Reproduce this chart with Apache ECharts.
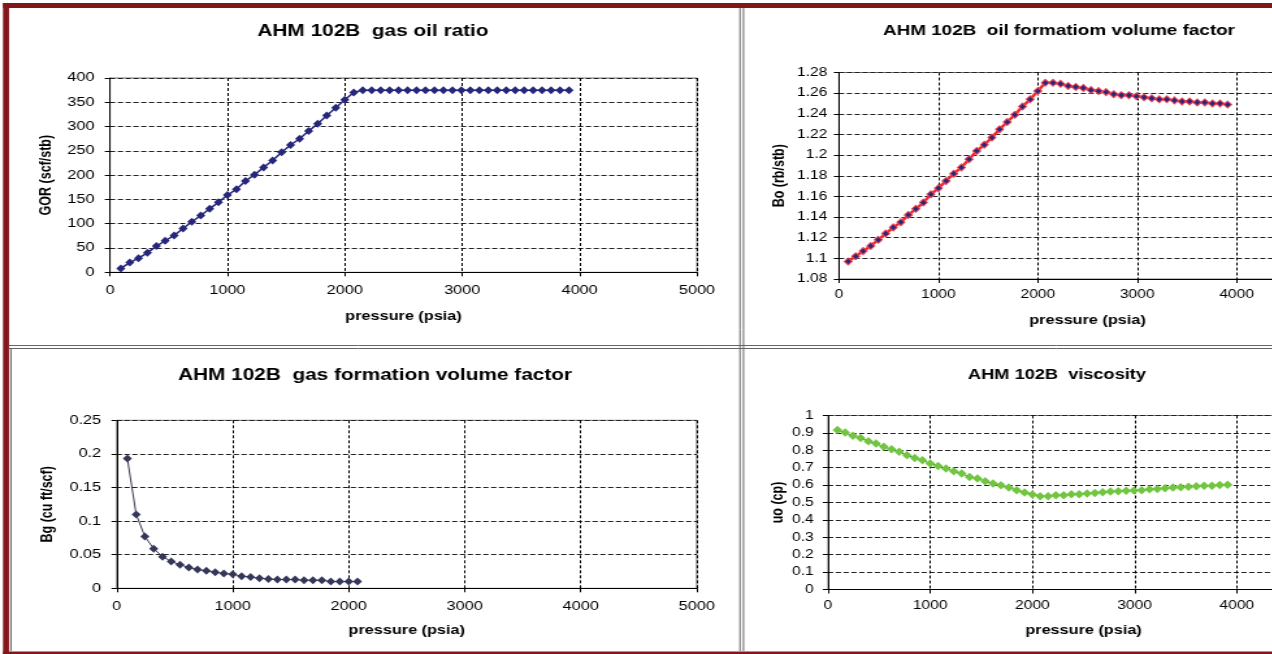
<!DOCTYPE html>
<html>
<head>
<meta charset="utf-8">
<title>AHM 102B PVT</title>
<script src="https://cdn.jsdelivr.net/npm/echarts@6/dist/echarts.min.js"></script>
<style>
html,body{margin:0;padding:0;background:#fff;overflow:hidden;}
/* the source picture is a screenshot stretched sideways, so the chart is too */
#main{width:1080px;height:654px;transform:scaleX(1.3);transform-origin:0 0;}
</style>
</head>
<body>
<div id="main"></div>
<script>
// pressure steps (psia), shared by all four panels
var pressure = [92, 168, 243, 319, 395, 470, 546, 622, 697, 773,
  849, 924, 1000, 1077, 1154, 1231, 1308, 1385, 1462, 1538,
  1615, 1692, 1769, 1846, 1923, 2000, 2076, 2153, 2229, 2306,
  2382, 2458, 2535, 2611, 2687, 2764, 2840, 2917, 2993, 3069,
  3146, 3222, 3298, 3375, 3451, 3527, 3604, 3680, 3757, 3833, 3910];

// gas oil ratio (scf/stb)
var gor = [8, 20, 29, 40, 54, 65, 76, 90, 104, 117,
  131, 144, 159, 171, 188, 201, 216, 230, 247, 262,
  275, 291, 306, 323, 339, 355, 370, 375, 375, 375,
  375, 375, 375, 375, 375, 375, 375, 375, 375, 375,
  375, 375, 375, 375, 375, 375, 375, 375, 375, 375, 375];

// oil formation volume factor (rb/stb)
var bo = [1.097, 1.102, 1.107, 1.112, 1.118, 1.124, 1.130, 1.135, 1.142, 1.148,
  1.154, 1.162, 1.168, 1.175, 1.182, 1.188, 1.196, 1.204, 1.210, 1.217,
  1.225, 1.232, 1.239, 1.247, 1.254, 1.262, 1.270, 1.270, 1.269, 1.267,
  1.266, 1.265, 1.263, 1.262, 1.261, 1.259, 1.258, 1.258, 1.257, 1.256,
  1.255, 1.254, 1.254, 1.253, 1.252, 1.252, 1.251, 1.251, 1.250, 1.250, 1.249];

// gas formation volume factor (cu ft/scf), only up to the bubble point
var bg = [0.193, 0.110, 0.077, 0.059, 0.047, 0.040, 0.035, 0.031, 0.028, 0.026,
  0.024, 0.022, 0.021, 0.018, 0.017, 0.015, 0.014, 0.013, 0.013, 0.013,
  0.012, 0.012, 0.012, 0.010, 0.010, 0.010, 0.010];

// oil viscosity (cp)
var visc = [0.916, 0.902, 0.883, 0.871, 0.852, 0.839, 0.820, 0.806, 0.791, 0.772,
  0.756, 0.743, 0.724, 0.710, 0.695, 0.680, 0.667, 0.647, 0.638, 0.622,
  0.609, 0.599, 0.586, 0.571, 0.557, 0.546, 0.536, 0.536, 0.542, 0.542,
  0.548, 0.548, 0.552, 0.555, 0.559, 0.563, 0.565, 0.567, 0.569, 0.571,
  0.576, 0.578, 0.582, 0.586, 0.588, 0.590, 0.594, 0.596, 0.596, 0.600, 0.602];

// axis ranges [min, max, step]
var pressRange = [0, 5000, 1000];
var gorRange = [0, 400, 50];
var boRange = [1.08, 1.28, 0.02];
var bgRange = [0, 0.25, 0.05];
var viscRange = [0, 1, 0.1];

var S = 1.3;
function sx(x) { return x / S; }   // screen x -> chart x
var FONT = 'Arial, "Liberation Sans", sans-serif';
var RED = '#83161a';

function pairs(ys) {
  return ys.map(function (v, i) { return [pressure[i], v]; });
}

function xAxisOf(gi, labelMargin, nameGap, fs, hideMax) {
  return {
    type: 'value', gridIndex: gi,
    min: pressRange[0], max: pressRange[1], interval: pressRange[2],
    name: 'pressure (psia)', nameLocation: 'middle', nameGap: nameGap,
    nameTextStyle: { fontFamily: FONT, fontWeight: 'bold', fontSize: 12.5, color: '#000' },
    axisLine: { onZero: false, lineStyle: { color: '#000', width: 1 } },
    axisTick: { inside: false, length: 4, lineStyle: { color: '#000' } },
    axisLabel: {
      margin: labelMargin, fontFamily: FONT, fontSize: fs, color: '#000', showMaxLabel: !hideMax,
      formatter: function (v) { return String(v); }
    },
    splitLine: { show: true, lineStyle: { color: '#000', type: [3, 2], width: 1 } }
  };
}

function yAxisOf(gi, r, name, nameGap, labelMargin, fs) {
  return {
    type: 'value', gridIndex: gi, min: r[0], max: r[1], interval: r[2],
    name: name, nameLocation: 'middle', nameGap: nameGap, nameRotate: 90,
    nameTextStyle: { fontFamily: FONT, fontWeight: 'bold', fontSize: 12.5, color: '#000' },
    axisLine: { onZero: false, lineStyle: { color: '#000', width: 1 } },
    axisTick: { inside: false, length: 4, lineStyle: { color: '#000' } },
    axisLabel: {
      margin: labelMargin, fontFamily: FONT, fontSize: fs, color: '#000',
      formatter: function (v) { return String(+v.toFixed(2)); }
    },
    splitLine: { show: true, lineStyle: { color: '#222', type: [4, 2], width: 1 } }
  };
}

function titleOf(text, cx, top, fs) {
  return {
    text: text, left: sx(cx), top: top, textAlign: 'center', padding: 0,
    textStyle: { fontFamily: FONT, fontWeight: 'bold', fontSize: fs, color: '#000' }
  };
}

var chart = echarts.init(document.getElementById('main'));

var option = {
  animation: false,
  backgroundColor: '#fff',
  title: [
    titleOf('AHM 102B  gas oil ratio', 373, 24, 16),
    titleOf('AHM 102B  oil formatiom volume factor', 1059, 23, 14.5),
    titleOf('AHM 102B  gas formation volume factor', 375, 367.5, 16),
    titleOf('AHM 102B  viscosity', 1057, 368, 14)
  ],
  grid: [
    { left: sx(110), top: 78, width: sx(587), height: 194.3, show: true, borderColor: '#777', borderWidth: 1, backgroundColor: 'transparent', outerBoundsMode: 'none' },
    { left: sx(839), top: 72.5, width: sx(497), height: 206.5, show: true, borderColor: '#777', borderWidth: 1, backgroundColor: 'transparent', outerBoundsMode: 'none' },
    { left: sx(116.7), top: 420.3, width: sx(580), height: 168, show: true, borderColor: '#777', borderWidth: 1, backgroundColor: 'transparent', outerBoundsMode: 'none' },
    { left: sx(828), top: 415.5, width: sx(511), height: 174, show: true, borderColor: '#777', borderWidth: 1, backgroundColor: 'transparent', outerBoundsMode: 'none' }
  ],
  xAxis: [
    xAxisOf(0, 12, 38, 12.5, false),
    xAxisOf(1, 10, 35, 12, true),
    xAxisOf(2, 12, 35.5, 12.5, false),
    xAxisOf(3, 10.5, 34.5, 12, true)
  ],
  yAxis: [
    yAxisOf(0, gorRange, 'GOR (scf/stb)', 43, 12, 12.5),
    yAxisOf(1, boRange, 'Bo (rb/stb)', 39, 9, 12),
    yAxisOf(2, bgRange, 'Bg (cu ft/scf)', 47, 12, 12.5),
    yAxisOf(3, viscRange, 'uo (cp)', 32, 11, 12)
  ],
  series: [
    {
      name: 'GOR', type: 'line', xAxisIndex: 0, yAxisIndex: 0, data: pairs(gor),
      symbol: 'diamond', symbolSize: [7, 8],
      lineStyle: { color: '#26267a', width: 1.5 },
      itemStyle: { color: '#26267a' }
    },
    {
      name: 'Bo', type: 'line', xAxisIndex: 1, yAxisIndex: 1, data: pairs(bo),
      symbol: 'diamond', symbolSize: [6, 7],
      lineStyle: { color: '#f02a30', width: 2.5 },
      itemStyle: { color: '#28287a', borderColor: '#f04050', borderWidth: 1 }
    },
    {
      name: 'Bg', type: 'line', xAxisIndex: 2, yAxisIndex: 2, data: pairs(bg),
      symbol: 'diamond', symbolSize: [7, 8],
      lineStyle: { color: '#3a3a4a', width: 1 },
      itemStyle: { color: '#35375a' }
    },
    {
      name: 'uo', type: 'line', xAxisIndex: 3, yAxisIndex: 3, data: pairs(visc),
      symbol: 'diamond', symbolSize: [7.5, 8.5],
      lineStyle: { color: '#3a4a96', width: 1 },
      itemStyle: { color: '#72c63f' }
    }
  ],
  // window frame and panel borders of the spreadsheet screenshot
  graphic: [
    { type: 'rect', silent: true, shape: { x: sx(3), y: 3, width: 1100, height: 5 }, style: { fill: RED } },
    { type: 'rect', silent: true, shape: { x: sx(3), y: 3, width: sx(6), height: 660 }, style: { fill: RED } },
    { type: 'rect', silent: true, shape: { x: sx(3), y: 651.5, width: 1100, height: 3 }, style: { fill: RED } },
    { type: 'line', silent: true, shape: { x1: sx(740), y1: 8, x2: sx(740), y2: 651 }, style: { stroke: '#666', lineWidth: 1 } },
    { type: 'line', silent: true, shape: { x1: sx(743.5), y1: 8, x2: sx(743.5), y2: 651 }, style: { stroke: '#666', lineWidth: 1 } },
    { type: 'line', silent: true, shape: { x1: sx(9), y1: 345.5, x2: 1100, y2: 345.5 }, style: { stroke: '#666', lineWidth: 1 } },
    { type: 'line', silent: true, shape: { x1: sx(9), y1: 348.5, x2: 1100, y2: 348.5 }, style: { stroke: '#666', lineWidth: 1 } },
    { type: 'line', silent: true, shape: { x1: sx(11), y1: 349, x2: sx(11), y2: 651 }, style: { stroke: '#666', lineWidth: 1 } }
  ]
};

chart.setOption(option);
window.onresize = chart.resize;
</script>
</body>
</html>
